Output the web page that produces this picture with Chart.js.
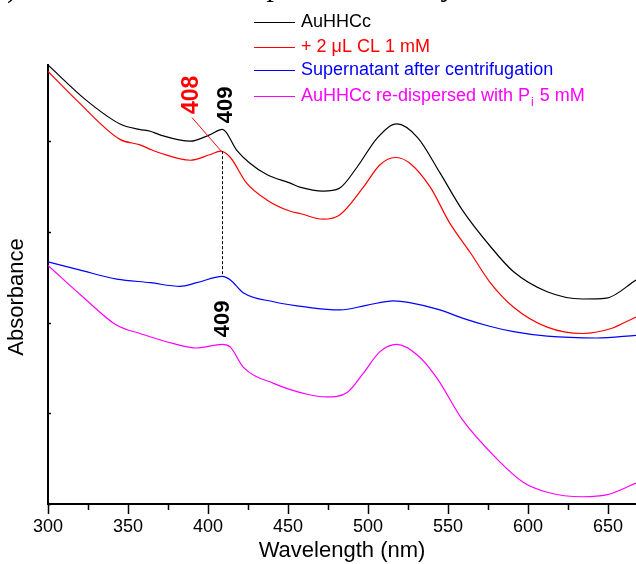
<!DOCTYPE html>
<html>
<head>
<meta charset="utf-8">
<script src="https://cdn.jsdelivr.net/npm/chart.js@4.4.1/dist/chart.umd.min.js"></script>
<style>
html,body{margin:0;padding:0;background:#fff;}
canvas{display:block;}
</style>
</head>
<body>
<canvas id="c" width="636" height="564"></canvas>
<script>
// ---- data ----
const seriesNames = ['AuHHCc', '+ 2 \u03bcL CL 1 mM', 'Supernatant after centrifugation', 'AuHHCc re-dispersed with P', ];
const seriesColors = ['#000000', '#ff0000', '#0000ff', '#ff00ff'];

const blackNm  = [300, 324, 345, 357, 364, 370, 389, 401, 409, 418, 426, 437, 451, 458, 472, 482, 493, 506, 518, 531, 545, 559, 576, 591, 612, 634, 649, 667.5];
const blackAbs = [4.84, 4.45, 4.19, 4.13, 4.11, 4.07, 4.00, 4.07, 4.13, 3.90, 3.76, 3.63, 3.54, 3.49, 3.45, 3.48, 3.71, 4.04, 4.19, 4.04, 3.65, 3.24, 2.85, 2.56, 2.34, 2.26, 2.27, 2.47];

const redNm  = [300, 318, 345, 357.5, 364, 370, 389, 401, 408, 414, 424, 437, 451, 458, 472, 482.5, 497, 507.5, 517, 526, 539, 551, 564, 576, 591, 612, 634, 653, 659, 667.5];
const redAbs = [4.77, 4.45, 4.02, 3.96, 3.91, 3.87, 3.79, 3.85, 3.89, 3.82, 3.54, 3.35, 3.23, 3.20, 3.14, 3.19, 3.49, 3.74, 3.82, 3.76, 3.49, 3.10, 2.77, 2.45, 2.17, 1.95, 1.88, 1.94, 1.99, 2.06];

const blueNm  = [300, 322, 343, 364, 382.5, 393, 409, 414, 422, 441, 462, 482.5, 499, 516, 526, 545, 559, 576, 591, 612, 643, 667.5];
const blueAbs = [2.67, 2.57, 2.48, 2.44, 2.40, 2.44, 2.51, 2.47, 2.33, 2.23, 2.17, 2.14, 2.19, 2.24, 2.22, 2.14, 2.05, 1.96, 1.90, 1.85, 1.83, 1.86];

const magentaNm  = [300, 322, 343, 357.5, 378, 393, 409, 414, 422, 441, 462, 474, 487, 497, 507.5, 518, 531, 543, 559, 581, 597, 612, 634, 649, 667.5];
const magentaAbs = [2.63, 2.28, 1.97, 1.88, 1.77, 1.72, 1.76, 1.73, 1.51, 1.33, 1.21, 1.18, 1.23, 1.44, 1.68, 1.76, 1.64, 1.39, 0.93, 0.49, 0.24, 0.13, 0.08, 0.10, 0.23];

const xMin = 300, xMax = 667.5;
const xMajorStep = 50, xMinorStep = 25;
const yMin = 0, yMax = 4.84;
const yTickValues = [0, 1, 2, 3, 4];

// peak annotations (data units)
const peakLabels = [
  {text: '408', x: 389.4, y: 4.51, color: '#ff0000', size: 23},
  {text: '409', x: 410.6, y: 4.40, color: '#000000', size: 22},
  {text: '409', x: 408.7, y: 2.04, color: '#000000', size: 22}
];
const redLeader = {x1: 390, y1: 4.26, x2: 408.3, y2: 3.89};
const dashedDrop = {x: 408.6, y1: 3.89, y2: 2.52};

const FONT = "'Liberation Sans', Arial, Helvetica, sans-serif";

function pts(xs, ys){ return xs.map((x,i)=>({x:x, y:ys[i]})); }

const datasets = [
  {label: seriesNames[0], data: pts(blackNm, blackAbs), borderColor: seriesColors[0]},
  {label: seriesNames[1], data: pts(redNm, redAbs), borderColor: seriesColors[1]},
  {label: seriesNames[2], data: pts(blueNm, blueAbs), borderColor: seriesColors[2]},
  {label: seriesNames[3] + 'i 5 mM', data: pts(magentaNm, magentaAbs), borderColor: seriesColors[3]}
].map(d => Object.assign(d, {borderWidth: 1.2, pointRadius: 0, fill: false, cubicInterpolationMode: 'monotone'}));

const decor = {
  id: 'decor',
  afterDraw(chart){
    const ctx = chart.ctx, xs = chart.scales.x, ys = chart.scales.y;
    const area = chart.chartArea;
    ctx.save();
    // minor x ticks
    ctx.strokeStyle = '#000'; ctx.lineWidth = 1.5;
    for (let v = xMin; v <= xMax; v += xMinorStep){
      if (v % xMajorStep === 0) continue;
      const px = Math.round(xs.getPixelForValue(v)) + 0.5;
      ctx.beginPath(); ctx.moveTo(px, area.bottom); ctx.lineTo(px, area.bottom + 6); ctx.stroke();
    }
    // inward y ticks
    yTickValues.forEach(v => {
      const py = Math.round(ys.getPixelForValue(v)) + 0.5;
      ctx.beginPath(); ctx.moveTo(area.left, py); ctx.lineTo(area.left + 3, py); ctx.stroke();
    });
    // y title
    ctx.save();
    ctx.translate(17, 297);
    ctx.rotate(-Math.PI/2);
    ctx.font = '22px ' + FONT; ctx.fillStyle = '#000';
    ctx.textAlign = 'center'; ctx.textBaseline = 'middle';
    ctx.fillText('Absorbance', 0, 0);
    ctx.restore();

    // dashed drop line
    ctx.save();
    ctx.strokeStyle = '#000'; ctx.lineWidth = 1; ctx.setLineDash([3, 2]);
    const dx = Math.round(xs.getPixelForValue(dashedDrop.x)) + 0.5;
    ctx.beginPath();
    ctx.moveTo(dx, ys.getPixelForValue(dashedDrop.y1));
    ctx.lineTo(dx, ys.getPixelForValue(dashedDrop.y2));
    ctx.stroke();
    ctx.restore();
    // red leader line
    ctx.strokeStyle = '#ff0000'; ctx.lineWidth = 1;
    ctx.beginPath();
    ctx.moveTo(xs.getPixelForValue(redLeader.x1), ys.getPixelForValue(redLeader.y1));
    ctx.lineTo(xs.getPixelForValue(redLeader.x2), ys.getPixelForValue(redLeader.y2));
    ctx.stroke();
    // peak labels (rotated)
    peakLabels.forEach(l => {
      ctx.save();
      ctx.translate(xs.getPixelForValue(l.x), ys.getPixelForValue(l.y));
      ctx.rotate(-Math.PI/2);
      ctx.font = 'bold ' + l.size + 'px ' + FONT; ctx.fillStyle = l.color;
      ctx.textAlign = 'center'; ctx.textBaseline = 'middle';
      ctx.fillText(l.text, 0, 1);
      ctx.restore();
    });

    // legend
    const rowsY = [22, 47, 70, 96];
    ctx.font = '18px ' + FONT; ctx.textBaseline = 'middle'; ctx.textAlign = 'left';
    rowsY.forEach((ry, i) => {
      ctx.strokeStyle = seriesColors[i]; ctx.lineWidth = 1.2;
      ctx.beginPath(); ctx.moveTo(254, ry + 0.5); ctx.lineTo(295, ry + 0.5); ctx.stroke();
      ctx.fillStyle = seriesColors[i];
      ctx.font = '18px ' + FONT;
      if (i < 3){
        ctx.fillText(seriesNames[i], 301, ry);
      } else {
        let tx = 301;
        ctx.fillText(seriesNames[3], tx, ry);
        tx += ctx.measureText(seriesNames[3]).width;
        ctx.font = '12px ' + FONT;
        ctx.fillText('i', tx + 1, ry + 7);
        tx += ctx.measureText('i').width + 1;
        ctx.font = '18px ' + FONT;
        ctx.fillText(' 5 mM', tx + 1, ry);
      }
    });

    // clipped caption fragments from the page above
    ctx.font = '30px "Liberation Serif", "Times New Roman", serif';
    ctx.fillStyle = '#000'; ctx.textBaseline = 'alphabetic'; ctx.textAlign = 'center';
    ctx.fillText(')', 12, -3);
    ctx.fillText('p', 274, -4);
    ctx.fillText('y', 448, -4);
    ctx.restore();
  }
};

new Chart(document.getElementById('c'), {
  type: 'line',
  data: {datasets},
  options: {
    responsive: false,
    devicePixelRatio: 1,
    animation: false,
    parsing: true,
    layout: {padding: {top: 65, left: 0, right: 0, bottom: 0}},
    plugins: {legend: {display: false}, tooltip: {enabled: false}},
    scales: {
      x: {
        type: 'linear', min: xMin, max: xMax,
        afterFit(s){ s.height = 60; },
        border: {display: true, color: '#000', width: 2},
        grid: {
          drawOnChartArea: false, drawTicks: true, tickLength: 10, tickWidth: 1.5,
          tickColor: c => (c.tick && c.tick.value % xMajorStep === 0) ? '#000' : 'rgba(0,0,0,0)'
        },
        ticks: {
          stepSize: xMinorStep, autoSkip: false, maxRotation: 0, includeBounds: false,
          color: '#000', font: {family: FONT, size: 18}, padding: 2,
          callback: v => (v % xMajorStep === 0) ? String(v) : ''
        },
        title: {display: true, text: 'Wavelength (nm)', color: '#000', font: {family: FONT, size: 22}, padding: {top: 0, bottom: 0}}
      },
      y: {
        type: 'linear', min: yMin, max: yMax,
        afterFit(s){ s.width = 48; },
        border: {display: true, color: '#000', width: 2},
        grid: {display: false},
        ticks: {display: false}
      }
    }
  },
  plugins: [decor]
});
</script>
</body>
</html>
